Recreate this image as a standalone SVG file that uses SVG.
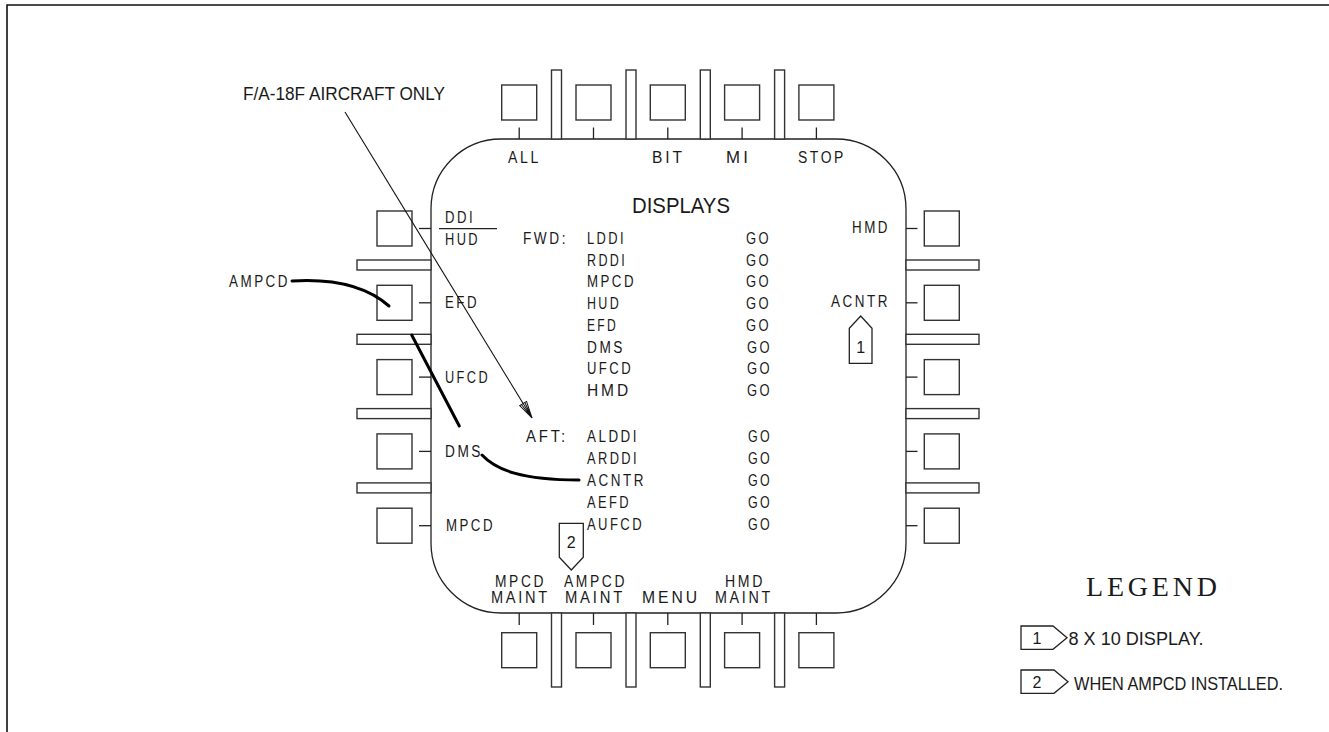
<svg xmlns="http://www.w3.org/2000/svg" width="1329" height="732" viewBox="0 0 1329 732">
<style>
.t{font-family:"Liberation Sans Narrow","Liberation Sans",Arial,sans-serif;font-size:16px;fill:#1a1a1a;letter-spacing:3px}
.d{font-family:"Liberation Sans Narrow","Liberation Sans",Arial,sans-serif;font-size:16px;fill:#1a1a1a}
.n{font-family:"Liberation Sans Narrow","Liberation Sans",Arial,sans-serif;fill:#1a1a1a}
.ln{stroke:#222;stroke-width:1.3;fill:none}
.btn{fill:#fff;stroke:#333;stroke-width:1.4}
.sep{fill:#fff;stroke:#333;stroke-width:1.4}
.thick{stroke:#000;stroke-width:3;fill:none;stroke-linecap:round}
.co{fill:#fff;stroke:#222;stroke-width:1.3}
</style>
<defs>
<marker id="arr" markerUnits="userSpaceOnUse" markerWidth="20" markerHeight="12" refX="18" refY="5" orient="auto" viewBox="0 0 20 10">
<path d="M18,5 L1,1 L1,9 Z M18,5 L1,3 M18,5 L1,5 M18,5 L1,7" fill="#fff" stroke="#111" stroke-width="1"/>
</marker>
</defs>
<rect width="1329" height="732" fill="#fff"/>
<g id="frame"><path d="M7,732 L7,5 L1329,5" fill="none" stroke="#111" stroke-width="1.6"/></g>

<g id="bezel">
<rect x="431" y="139" width="475" height="474" rx="70" ry="70" class="ln"/>
</g>

<g id="separators">
<rect x="551.5" y="70" width="10" height="69" class="sep"/>
<rect x="626" y="70" width="10" height="69" class="sep"/>
<rect x="700.3" y="70" width="10" height="69" class="sep"/>
<rect x="774.6" y="70" width="10" height="69" class="sep"/>
<rect x="551.5" y="613" width="10" height="74" class="sep"/>
<rect x="626" y="613" width="10" height="74" class="sep"/>
<rect x="700.3" y="613" width="10" height="74" class="sep"/>
<rect x="774.6" y="613" width="10" height="74" class="sep"/>
<rect x="357" y="260" width="74" height="10" class="sep"/>
<rect x="357" y="334.3" width="74" height="10" class="sep"/>
<rect x="357" y="408.6" width="74" height="10" class="sep"/>
<rect x="357" y="482.9" width="74" height="10" class="sep"/>
<rect x="906" y="260" width="73" height="10" class="sep"/>
<rect x="906" y="334.3" width="73" height="10" class="sep"/>
<rect x="906" y="408.6" width="73" height="10" class="sep"/>
<rect x="906" y="482.9" width="73" height="10" class="sep"/>
</g>

<g id="top-buttons">
<g id="pb-top1"><rect x="501.7" y="85" width="35" height="35" class="btn"/><path d="M519.2,127.5 V139" class="ln"/></g>
<g id="pb-top2"><rect x="576" y="85" width="35" height="35" class="btn"/><path d="M593.5,127.5 V139" class="ln"/></g>
<g id="pb-top3"><rect x="650.3" y="85" width="35" height="35" class="btn"/><path d="M667.8,127.5 V139" class="ln"/></g>
<g id="pb-top4"><rect x="724.6" y="85" width="35" height="35" class="btn"/><path d="M742.1,127.5 V139" class="ln"/></g>
<g id="pb-top5"><rect x="798.9" y="85" width="35" height="35" class="btn"/><path d="M816.4,127.5 V139" class="ln"/></g>
</g>

<g id="bottom-buttons">
<g id="pb-bot1"><rect x="501.7" y="632.7" width="35" height="35" class="btn"/><path d="M519.2,613 V625" class="ln"/></g>
<g id="pb-bot2"><rect x="576" y="632.7" width="35" height="35" class="btn"/><path d="M593.5,613 V625" class="ln"/></g>
<g id="pb-bot3"><rect x="650.3" y="632.7" width="35" height="35" class="btn"/><path d="M667.8,613 V625" class="ln"/></g>
<g id="pb-bot4"><rect x="724.6" y="632.7" width="35" height="35" class="btn"/><path d="M742.1,613 V625" class="ln"/></g>
<g id="pb-bot5"><rect x="798.9" y="632.7" width="35" height="35" class="btn"/><path d="M816.4,613 V625" class="ln"/></g>
</g>

<g id="left-buttons">
<g id="pb-left1"><rect x="377" y="211" width="35" height="35" class="btn"/><path d="M419,228.5 H431" class="ln"/></g>
<g id="pb-left2"><rect x="377" y="285.3" width="35" height="35" class="btn"/><path d="M419,302.8 H431" class="ln"/></g>
<g id="pb-left3"><rect x="377" y="359.6" width="35" height="35" class="btn"/><path d="M419,377.1 H431" class="ln"/></g>
<g id="pb-left4"><rect x="377" y="433.9" width="35" height="35" class="btn"/><path d="M419,451.4 H431" class="ln"/></g>
<g id="pb-left5"><rect x="377" y="508.2" width="35" height="35" class="btn"/><path d="M419,525.7 H431" class="ln"/></g>
</g>

<g id="right-buttons">
<g id="pb-right1"><rect x="924.3" y="211" width="35" height="35" class="btn"/><path d="M906,228.5 H917.5" class="ln"/></g>
<g id="pb-right2"><rect x="924.3" y="285.3" width="35" height="35" class="btn"/><path d="M906,302.8 H917.5" class="ln"/></g>
<g id="pb-right3"><rect x="924.3" y="359.6" width="35" height="35" class="btn"/><path d="M906,377.1 H917.5" class="ln"/></g>
<g id="pb-right4"><rect x="924.3" y="433.9" width="35" height="35" class="btn"/><path d="M906,451.4 H917.5" class="ln"/></g>
<g id="pb-right5"><rect x="924.3" y="508.2" width="35" height="35" class="btn"/><path d="M906,525.7 H917.5" class="ln"/></g>
</g>

<g id="top-labels">
<text class="t" x="508" y="163" textLength="33" lengthAdjust="spacingAndGlyphs">ALL</text>
<text class="t" x="652" y="163" textLength="33" lengthAdjust="spacingAndGlyphs">BIT</text>
<text class="t" x="726" y="163" textLength="25" lengthAdjust="spacingAndGlyphs">MI</text>
<text class="t" x="798" y="163" textLength="48" lengthAdjust="spacingAndGlyphs">STOP</text>
</g>

<g id="left-labels">
<text class="t" x="445" y="223" textLength="30" lengthAdjust="spacingAndGlyphs">DDI</text>
<path d="M439,228.7 H497" class="ln"/>
<text class="t" x="445" y="245" textLength="35" lengthAdjust="spacingAndGlyphs">HUD</text>
<text class="t" x="445" y="308" textLength="34" lengthAdjust="spacingAndGlyphs">EFD</text>
<text class="t" x="445" y="382.5" textLength="45" lengthAdjust="spacingAndGlyphs">UFCD</text>
<text class="t" x="445" y="456.5" textLength="38" lengthAdjust="spacingAndGlyphs">DMS</text>
<text class="t" x="446" y="531" textLength="49" lengthAdjust="spacingAndGlyphs">MPCD</text>
</g>

<g id="right-labels">
<text class="t" x="852" y="233" textLength="38" lengthAdjust="spacingAndGlyphs">HMD</text>
<text class="t" x="831" y="307" textLength="59" lengthAdjust="spacingAndGlyphs">ACNTR</text>
</g>

<g id="bottom-labels">
<text class="t" x="495" y="587" textLength="51" lengthAdjust="spacingAndGlyphs">MPCD</text>
<text class="t" x="491" y="603" textLength="59" lengthAdjust="spacingAndGlyphs">MAINT</text>
<text class="t" x="564" y="587" textLength="63" lengthAdjust="spacingAndGlyphs">AMPCD</text>
<text class="t" x="565" y="603" textLength="60" lengthAdjust="spacingAndGlyphs">MAINT</text>
<text class="t" x="642" y="603" textLength="58" lengthAdjust="spacingAndGlyphs">MENU</text>
<text class="t" x="725" y="587" textLength="40" lengthAdjust="spacingAndGlyphs">HMD</text>
<text class="t" x="715" y="603" textLength="58" lengthAdjust="spacingAndGlyphs">MAINT</text>
</g>

<g id="display-list">
<text class="n" x="632" y="213" font-size="22" textLength="98" lengthAdjust="spacingAndGlyphs">DISPLAYS</text>
<text class="t" x="523" y="244" textLength="45" lengthAdjust="spacingAndGlyphs">FWD:</text>
<text class="t" x="587" y="244" textLength="39" lengthAdjust="spacingAndGlyphs">LDDI</text>
<text class="t" x="587" y="265.7" textLength="40" lengthAdjust="spacingAndGlyphs">RDDI</text>
<text class="t" x="587" y="287.4" textLength="49" lengthAdjust="spacingAndGlyphs">MPCD</text>
<text class="t" x="587" y="309.1" textLength="34" lengthAdjust="spacingAndGlyphs">HUD</text>
<text class="t" x="587" y="330.8" textLength="31" lengthAdjust="spacingAndGlyphs">EFD</text>
<text class="t" x="587" y="352.5" textLength="38" lengthAdjust="spacingAndGlyphs">DMS</text>
<text class="t" x="587" y="374.2" textLength="46" lengthAdjust="spacingAndGlyphs">UFCD</text>
<text class="t" x="587" y="396" textLength="44" lengthAdjust="spacingAndGlyphs">HMD</text>
<text class="t" x="746" y="244" textLength="25" lengthAdjust="spacingAndGlyphs">GO</text>
<text class="t" x="746" y="265.7" textLength="25" lengthAdjust="spacingAndGlyphs">GO</text>
<text class="t" x="746" y="287.4" textLength="25" lengthAdjust="spacingAndGlyphs">GO</text>
<text class="t" x="746" y="309.1" textLength="25" lengthAdjust="spacingAndGlyphs">GO</text>
<text class="t" x="746" y="330.8" textLength="25" lengthAdjust="spacingAndGlyphs">GO</text>
<text class="t" x="747" y="352.5" textLength="25" lengthAdjust="spacingAndGlyphs">GO</text>
<text class="t" x="747" y="374.2" textLength="25" lengthAdjust="spacingAndGlyphs">GO</text>
<text class="t" x="747" y="396" textLength="25" lengthAdjust="spacingAndGlyphs">GO</text>
<text class="t" x="526" y="442" textLength="42" lengthAdjust="spacingAndGlyphs">AFT:</text>
<text class="t" x="587" y="442" textLength="52" lengthAdjust="spacingAndGlyphs">ALDDI</text>
<text class="t" x="587" y="464" textLength="52" lengthAdjust="spacingAndGlyphs">ARDDI</text>
<text class="t" x="587" y="486" textLength="59" lengthAdjust="spacingAndGlyphs">ACNTR</text>
<text class="t" x="587" y="508" textLength="44" lengthAdjust="spacingAndGlyphs">AEFD</text>
<text class="t" x="587" y="530" textLength="57" lengthAdjust="spacingAndGlyphs">AUFCD</text>
<text class="t" x="748" y="442" textLength="24" lengthAdjust="spacingAndGlyphs">GO</text>
<text class="t" x="748" y="464" textLength="24" lengthAdjust="spacingAndGlyphs">GO</text>
<text class="t" x="748" y="486" textLength="24" lengthAdjust="spacingAndGlyphs">GO</text>
<text class="t" x="748" y="508" textLength="24" lengthAdjust="spacingAndGlyphs">GO</text>
<text class="t" x="748" y="530" textLength="24" lengthAdjust="spacingAndGlyphs">GO</text>
</g>

<g id="callout-1">
<path d="M860.7,316 L872,328.3 V363.3 H849.3 V328.3 Z" class="co"/>
<text class="d" x="860.7" y="353" text-anchor="middle">1</text>
</g>
<g id="callout-2">
<path d="M559.3,523.3 H583.3 V557.3 L571.3,570 L559.3,557.3 Z" class="co"/>
<text class="d" x="571.3" y="548" text-anchor="middle">2</text>
</g>

<g id="ampcd-label">
<text class="t" x="229" y="287" textLength="61" lengthAdjust="spacingAndGlyphs">AMPCD</text>
</g>
<g id="note-label">
<text class="n" x="243" y="100" font-size="18" textLength="202" lengthAdjust="spacingAndGlyphs">F/A-18F AIRCRAFT ONLY</text>
</g>

<g id="connectors">
<path d="M345,112 L532,418" stroke="#111" stroke-width="1.1" fill="none" marker-end="url(#arr)"/>
<path d="M292,281 Q356,277 389,306" class="thick"/>
<path d="M411.7,335 L459.3,426" class="thick"/>
<path d="M482,455 C496,470 522,480 579,480" class="thick"/>
</g>

<g id="legend">
<text x="1086" y="596" font-family="Liberation Serif, serif" font-size="28" fill="#1a1a1a" textLength="131" lengthAdjust="spacing">LEGEND</text>
<g id="legend-1">
<path d="M1021,626 H1053 L1067,637.7 L1053,649.3 H1021 Z" class="co"/>
<text class="d" x="1037" y="644" text-anchor="middle">1</text>
<text class="n" x="1068.5" y="645" font-size="18" textLength="135" lengthAdjust="spacingAndGlyphs">8 X 10 DISPLAY.</text>
</g>
<g id="legend-2">
<path d="M1021,670 H1054 L1068,681.7 L1054,693.3 H1021 Z" class="co"/>
<text class="d" x="1037" y="688" text-anchor="middle">2</text>
<text class="n" x="1074" y="690" font-size="18" textLength="209" lengthAdjust="spacingAndGlyphs">WHEN AMPCD INSTALLED.</text>
</g>
</g>
</svg>
